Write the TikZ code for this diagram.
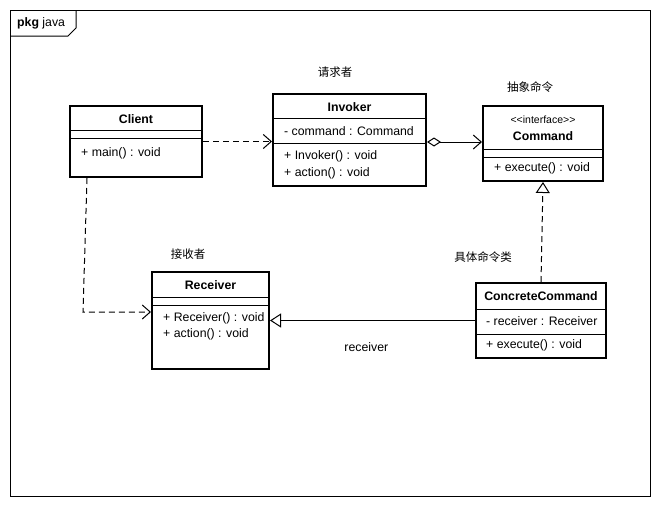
\documentclass[tikz,border=0pt]{standalone}
\usepackage{fontspec}
\setmainfont{Liberation Sans}
\newfontfamily\cjk{Noto Sans CJK SC}
\usetikzlibrary{arrows.meta}

\begin{document}
\begin{tikzpicture}[x=1pt,y=-1pt,
        classbox/.style={draw, line width=2pt, inner sep=0pt},
        member/.style={anchor=west, inner sep=0pt, font=\fontsize{12.3}{14}\selectfont},
        title/.style={inner sep=0pt, font=\fontsize{12.3}{14}\selectfont\bfseries},
        note/.style={inner sep=0pt, font=\fontsize{11.5}{13}\selectfont\cjk},
        sep/.style={line width=1pt},
        dep/.style={line width=1pt, dashed, dash pattern=on 6pt off 4pt, -{Straight Barb[length=8pt,width=14pt]}},
    ]
        \useasboundingbox (0,0) rectangle (660,506);

        % package frame
        \draw[line width=1pt] (10,10) rectangle (650,496);
        \draw[line width=1pt] (10,36) -- (68,36) -- (76,28) -- (76,10);
        \node[member] (pkg) at (17,23) {\textbf{pkg} java};

        % classes
        \node[classbox, minimum width=132pt, minimum height=71pt] (client) at (136,141.5) {};
        \node[title] at (136,119) {Client};
        \draw[sep] (client.west |- 0,130) -- (client.east |- 0,130);
        \draw[sep] (client.west |- 0,138) -- (client.east |- 0,138);
        \node[member] at (81,153) {+ main() : void};

        \node[classbox, minimum width=153pt, minimum height=92pt] (invoker) at (349.5,140) {};
        \node[title] at (349.5,107) {Invoker};
        \draw[sep] (invoker.west |- 0,118) -- (invoker.east |- 0,118);
        \draw[sep] (invoker.west |- 0,143) -- (invoker.east |- 0,143);
        \node[member] at (284,131) {- command : Command};
        \node[member] at (284,156) {+ Invoker() : void};
        \node[member] at (284,173) {+ action() : void};

        \node[classbox, minimum width=120pt, minimum height=75pt] (command) at (543,143.5) {};
        \node[member, anchor=center, font=\fontsize{10.5}{12}\selectfont] at (543,120) {{<}{<}interface{>}{>}};
        \node[title] at (543,136) {Command};
        \draw[sep] (command.west |- 0,149) -- (command.east |- 0,149);
        \draw[sep] (command.west |- 0,157) -- (command.east |- 0,157);
        \node[member] at (494,168) {+ execute() : void};

        \node[classbox, minimum width=117pt, minimum height=97pt] (receiver) at (210.5,320.5) {};
        \node[title] at (210.5,285) {Receiver};
        \draw[sep] (receiver.west |- 0,297) -- (receiver.east |- 0,297);
        \draw[sep] (receiver.west |- 0,305) -- (receiver.east |- 0,305);
        \node[member] at (163,318) {+ Receiver() : void};
        \node[member] at (163,334) {+ action() : void};

        \node[classbox, minimum width=130pt, minimum height=75pt] (concrete) at (541,320.5) {};
        \node[title] at (541,296) {ConcreteCommand};
        \draw[sep] (concrete.west |- 0,309) -- (concrete.east |- 0,309);
        \draw[sep] (concrete.west |- 0,334) -- (concrete.east |- 0,334);
        \node[member] at (486,321) {- receiver : Receiver};
        \node[member] at (486,345) {+ execute() : void};

        % role notes
        \node[note] (invnote) at (335,72) {请求者};
        \node[note] (cmdnote) at (530,87) {抽象命令};
        \node[note] (recnote) at (188,254) {接收者};
        \node[note] (connote) at (483,257) {具体命令类};

        % relations
        \draw[dep] (client.east) -- (client.east -| invoker.west);
        \draw[line width=1pt, {Diamond[open,length=14pt,width=9pt]}-{Straight Barb[length=8pt,width=14pt]}]
            ([yshift=-2pt]invoker.east) -- ([yshift=-2pt]invoker.east -| command.west);
        \coordinate (bend) at (83,312);
        \draw[dep] ([xshift=-49pt]client.south) -- (bend) -- (bend -| receiver.west);
        \draw[line width=1pt, -{Triangle[open,length=11pt,width=14pt]}] (concrete.west) -- (concrete.west -| receiver.east)
            node[member, anchor=center, pos=0.53, yshift=-27pt] (rolename) {receiver};
        \draw[line width=1pt, dashed, dash pattern=on 6pt off 4pt, -{Triangle[open,length=11pt,width=14pt]}] (concrete.north) -- (command.south);
    \end{tikzpicture}
\end{document}
